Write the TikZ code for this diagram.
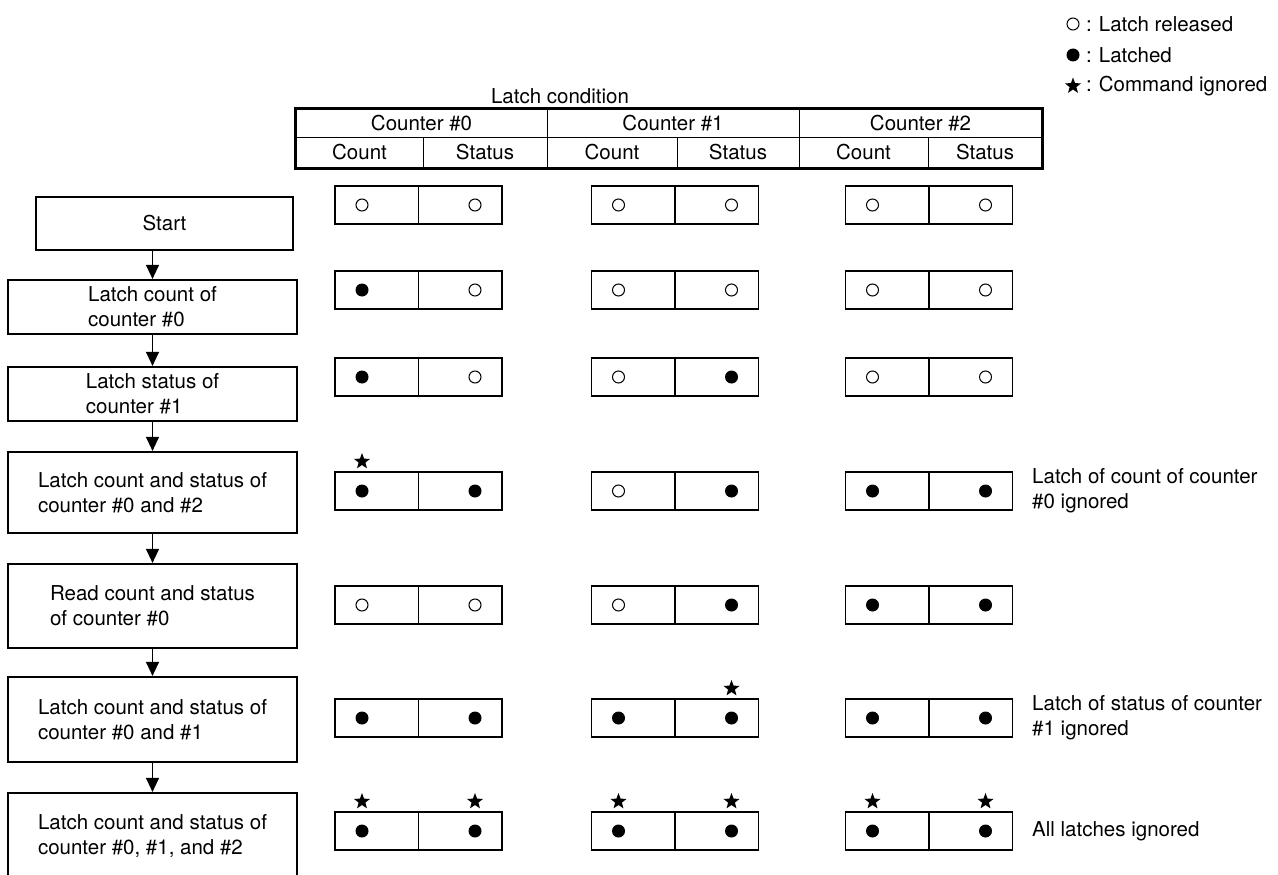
\documentclass[tikz,border=0pt]{standalone}
\usepackage{fontspec}
\setmainfont{TeX Gyre Heros}
\usetikzlibrary{arrows.meta, positioning, shapes.geometric}

\begin{document}
\begin{tikzpicture}[
  x=1pt, y=-1pt,
  font=\fontsize{20.5}{25}\selectfont,
  stepbox/.style={draw, line width=2.2pt, align=left, inner sep=0pt, minimum width=289pt},
  flow/.style={line width=1.3pt, -{Triangle[length=14pt, width=13pt]}},
  head/.style={draw, line width=1pt, inner sep=0pt},
  half/.style={draw, line width=1.3pt, minimum width=83.5pt, minimum height=38pt, inner sep=0pt},
  dot o/.style={circle, draw, line width=1pt, minimum size=12pt, inner sep=0pt},
  dot f/.style={circle, fill, minimum size=13pt, inner sep=0pt},
  ignored/.style={star, star points=5, star point ratio=2.4, fill, minimum size=17pt, inner sep=0pt},
  note/.style={align=left, anchor=west, inner sep=0pt}]

  \useasboundingbox (0,0) rectangle (1278,875);

  % legend
  \node[dot o] (lo) at (1073,24) {};
  \node[ignored] (ls) at (1073,86) {};
  \node[dot f] (lf) at (1073,55) {};
  \node[anchor=west, inner sep=0pt] (lot) at (1086,24) {:\hspace{7pt}Latch released};
  \node[anchor=west, inner sep=0pt] (lft) at (1086,55) {:\hspace{7pt}Latched};
  \node[anchor=west, inner sep=0pt] (lst) at (1086,86) {:\hspace{7pt}Command ignored};

  % latch condition table
  \node (cond) at (560,96) {Latch condition};
  \foreach \xx/\w/\t [count=\i from 0] in {421.5/251/0, 673/252/1, 920.5/243/2}
    \node[head, minimum width=\w pt, minimum height=28pt] (ctr\i) at (\xx,123) {Counter \#\t};
  \foreach \xx/\w/\t [count=\i] in {359.5/127/Count, 485/124/Status, 612/130/Count,
                                   738/122/Status, 863.5/129/Count, 985/114/Status}
    \node[head, minimum width=\w pt, minimum height=31pt] (sub\i) at (\xx,152.5) {\t};
  \draw[line width=2.2pt] (ctr0.north west) rectangle (sub6.south east);

  % flow chart
  \node[stepbox, minimum width=257pt, minimum height=53pt] (b1) at (164.5,223.5) {Start};
  \node[stepbox, minimum height=54pt] (b2) at (152.5,307) {Latch count of\\counter \#0};
  \node[stepbox, minimum height=54pt] (b3) at (152.5,394) {Latch status of\\counter \#1};
  \node[stepbox, minimum height=81pt] (b4) at (152.5,492.5) {Latch count and status of\\counter \#0 and \#2};
  \node[stepbox, minimum height=84pt] (b5) at (152.5,606) {Read count and status\\of counter \#0};
  \node[stepbox, minimum height=85pt] (b6) at (152.5,719.5) {Latch count and status of\\counter \#0 and \#1};
  \node[stepbox, minimum height=85pt] (b7) at (152.5,835.5) {Latch count and status of\\counter \#0, \#1, and \#2};
  \foreach \a/\b in {b1/b2, b2/b3, b3/b4, b4/b5, b5/b6, b6/b7}
    \draw[flow] (\a.south -| \b.north) -- (\b.north);

  % cells
  \foreach \yy [count=\r] in {205,290,377,491,605,718,831}
    \foreach \xx [count=\i] in {376.75,460.25,633.25,716.75,887.25,970.75}
      \node[half] (k\r-\i) at (\xx,\yy) {};
  \foreach \r/\codes in {1/{o,o,o,o,o,o}, 2/{f,o,o,o,o,o}, 3/{f,o,o,f,o,o}, 4/{f,f,o,f,f,f},
                         5/{o,o,o,f,f,f}, 6/{f,f,f,f,f,f}, 7/{f,f,f,f,f,f}}
    \foreach \c [count=\i] in \codes {
      \pgfmathsetmacro\dx{isodd(\i) ? -14.75 : 14.75}
      \node[dot \c] (d\r-\i) at ([xshift=\dx pt]k\r-\i.center) {};
    }
  \foreach \r/\i in {4/1, 6/4, 7/1, 7/2, 7/3, 7/4, 7/5, 7/6}
    \node[ignored, above=19pt of d\r-\i] (s\r-\i) {};

  % remarks
  \node[note] (n4) at (1032,491) {Latch of count of counter\\\#0 ignored};
  \node[note] (n6) at (1032,718) {Latch of status of counter\\\#1 ignored};
  \node[note] (n7) at (1032,831) {All latches ignored};
\end{tikzpicture}
\end{document}
